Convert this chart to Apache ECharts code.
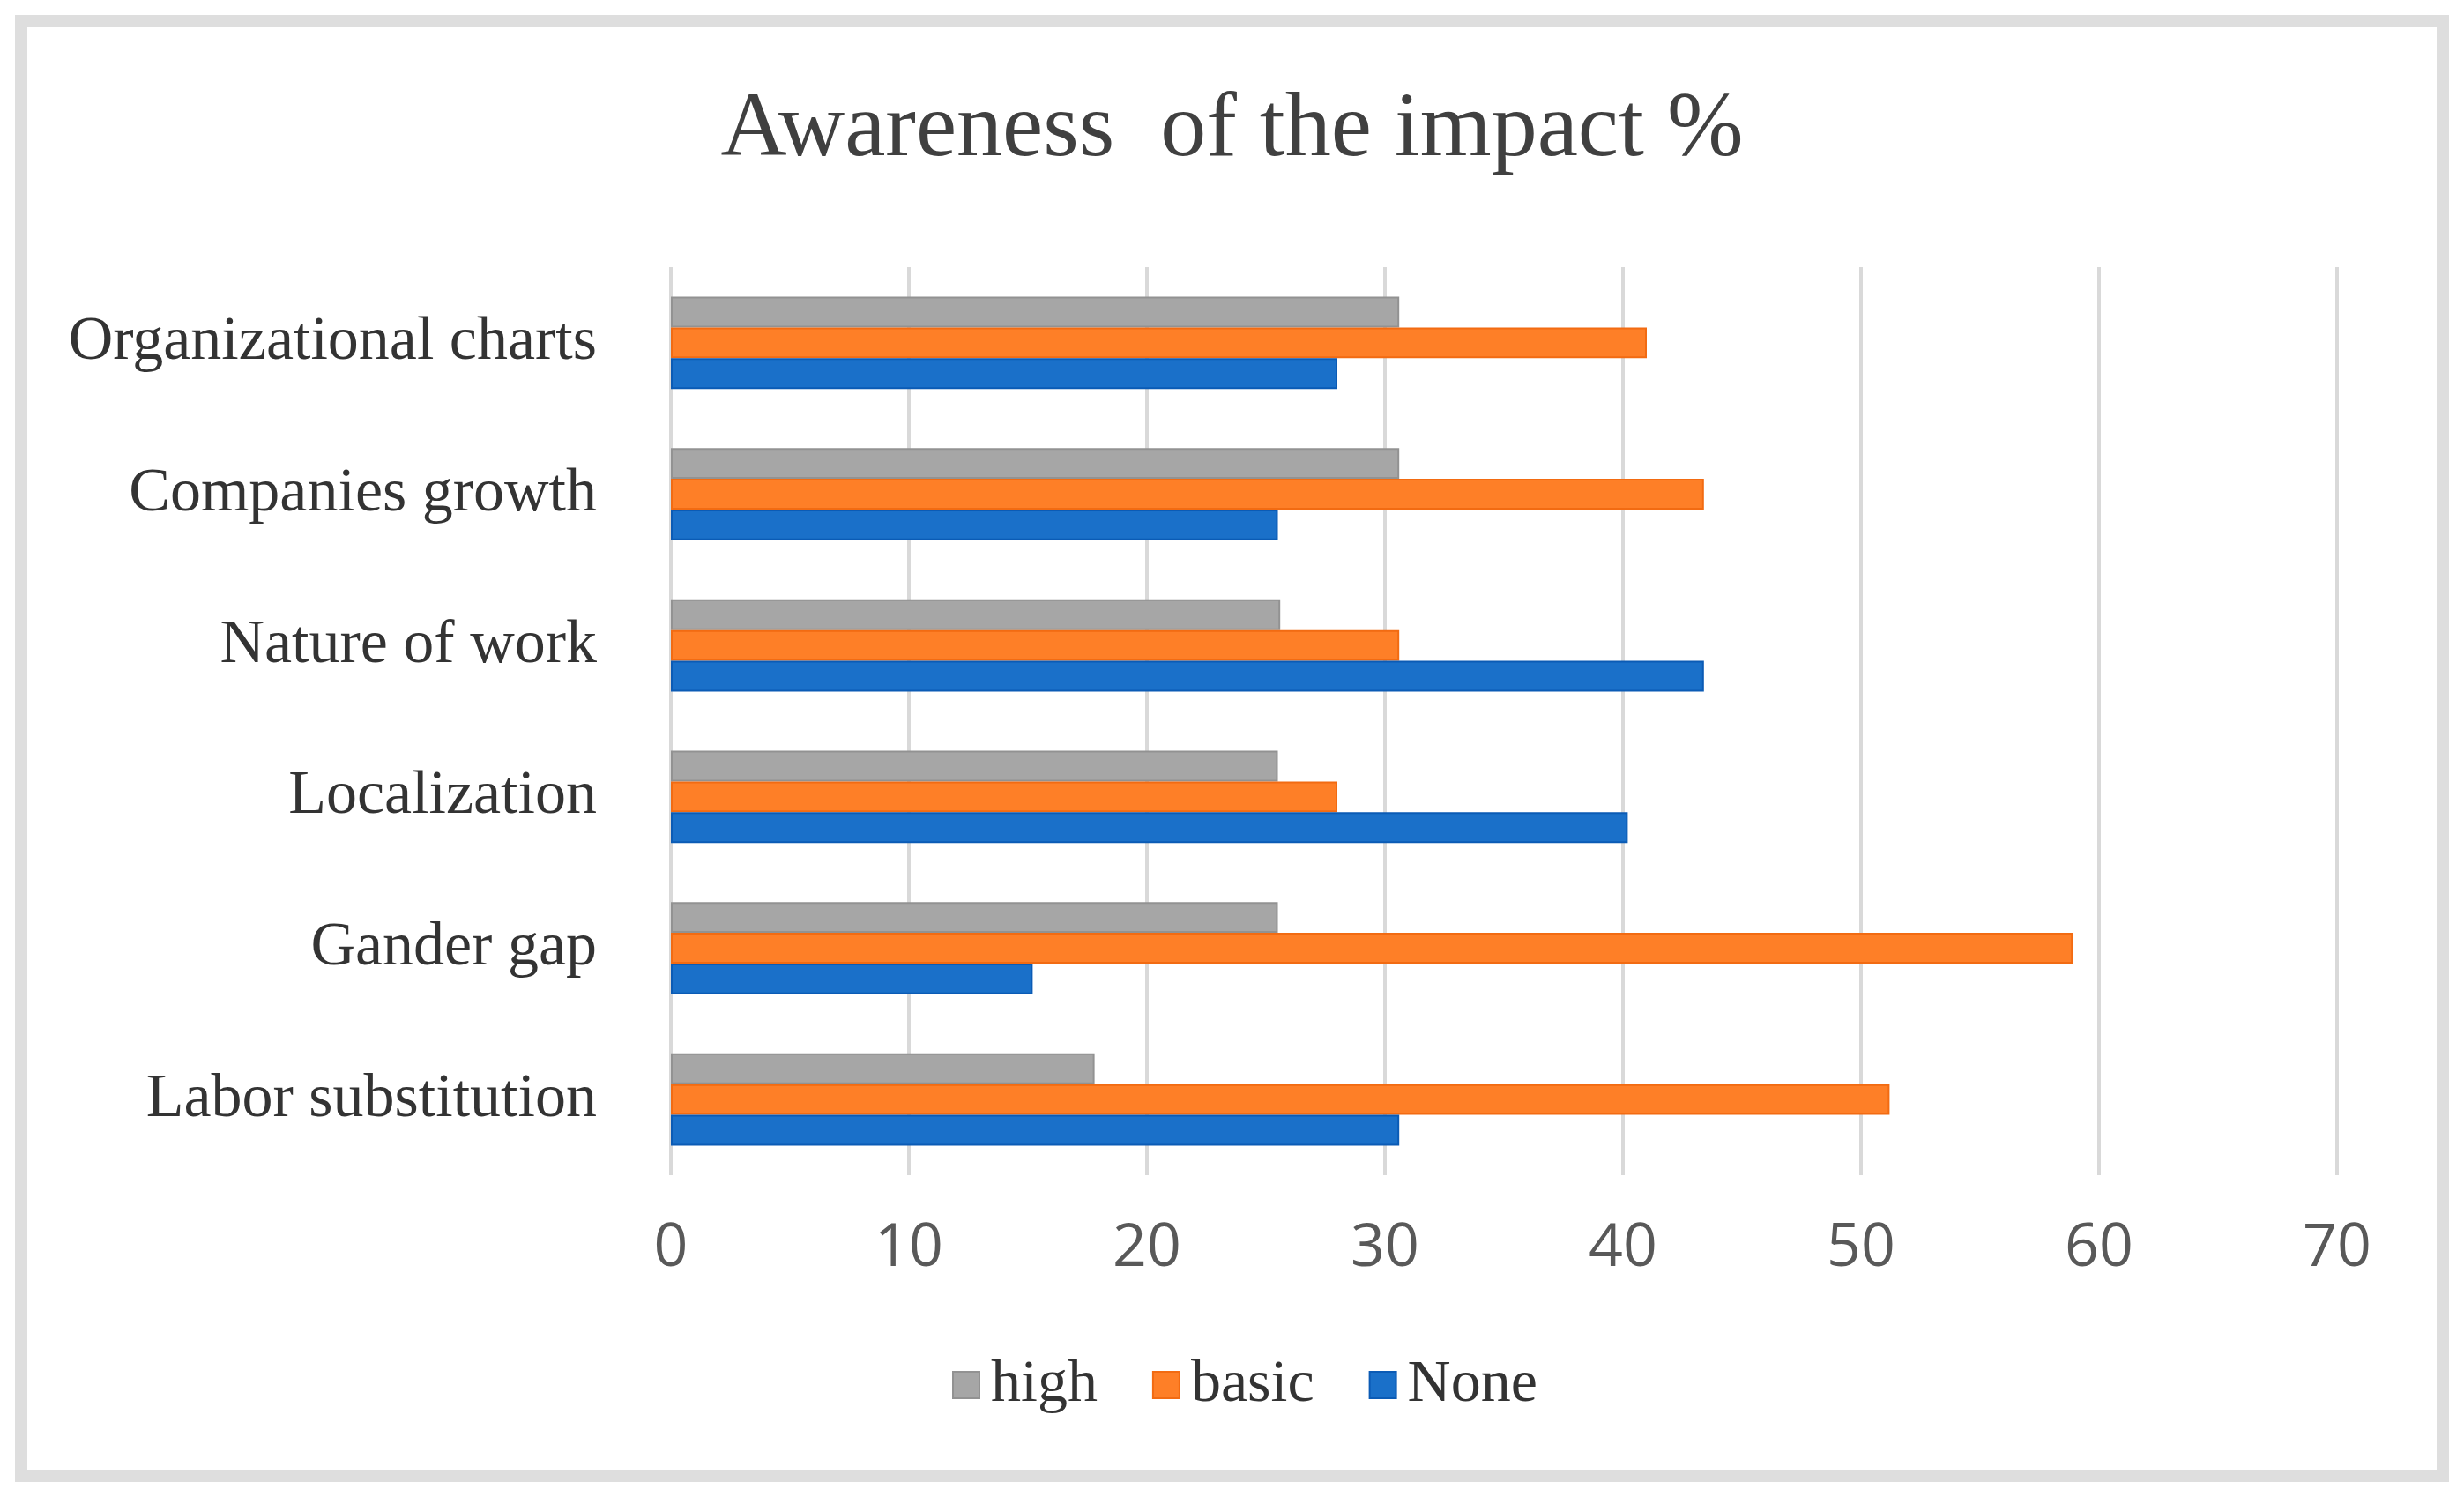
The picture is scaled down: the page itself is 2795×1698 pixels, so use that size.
<!DOCTYPE html>
<html>
<head>
<meta charset="utf-8">
<script src="https://cdn.jsdelivr.net/npm/echarts@6/dist/echarts.min.js"></script>
<style>
html,body{margin:0;padding:0;background:#fff;}
#chart{width:2795px;height:1698px;}
</style>
</head>
<body>
<div id="chart"></div>
<script>
const categories = ['Labor substitution', 'Gander gap', 'Localization', 'Nature of work', 'Companies growth', 'Organizational charts'];
const highValues = [17.8, 25.5, 25.5, 25.6, 30.6, 30.6];
const basicValues = [51.2, 58.9, 28.0, 30.6, 43.4, 41.0];
const noneValues = [30.6, 15.2, 40.2, 43.4, 25.5, 28.0];
const xTicks = [0, 10, 20, 30, 40, 50, 60, 70];
const titleText = 'Awareness  of the impact %';

const serif = '"Liberation Serif", "Times New Roman", serif';
const chart = echarts.init(document.getElementById('chart'));
chart.setOption({
  backgroundColor: '#ffffff',
  animation: false,
  title: {
    text: titleText,
    left: 'center',
    top: 92,
    textStyle: { fontFamily: serif, fontSize: 104, fontWeight: 'normal', color: '#404040' }
  },
  graphic: [{
    type: 'rect',
    shape: { x: 24, y: 24, width: 2747, height: 1650 },
    style: { fill: 'none', stroke: '#dedede', lineWidth: 14 },
    silent: true
  }],
  legend: {
    data: ['high', 'basic', 'None'],
    left: 1075,
    top: 1532,
    icon: 'rect',
    itemWidth: 30,
    itemHeight: 30,
    itemGap: 62,
    textStyle: { fontFamily: serif, fontSize: 68, color: '#333333', padding: [0, 0, 0, 8] }
  },
  grid: { left: 761, right: 144, top: 303, bottom: 365, containLabel: false },
  xAxis: {
    type: 'value',
    min: xTicks[0],
    max: xTicks[xTicks.length - 1],
    interval: 10,
    axisLine: { show: false },
    axisTick: { show: false },
    splitLine: { show: true, lineStyle: { color: '#d9d9d9', width: 4 } },
    axisLabel: {
      margin: 50,
      fontFamily: '"Open Sans", sans-serif',
      fontSize: 68,
      color: '#595959'
    }
  },
  yAxis: {
    type: 'category',
    data: categories,
    axisLine: { show: false },
    axisTick: { show: false },
    axisLabel: { margin: 84, fontFamily: serif, fontSize: 70, color: '#333333' }
  },
  series: [
    {
      name: 'high', type: 'bar', data: highValues,
      barGap: '0%', barCategoryGap: '39%',
      itemStyle: { color: '#a6a6a6', borderColor: '#929292', borderWidth: 2 }
    },
    {
      name: 'basic', type: 'bar', data: basicValues,
      barGap: '0%', barCategoryGap: '39%',
      itemStyle: { color: '#fe7f27', borderColor: '#f26b12', borderWidth: 2 }
    },
    {
      name: 'None', type: 'bar', data: noneValues,
      barGap: '0%', barCategoryGap: '39%',
      itemStyle: { color: '#1a70c9', borderColor: '#0b5bb5', borderWidth: 2 }
    }
  ]
});
</script>
</body>
</html>
